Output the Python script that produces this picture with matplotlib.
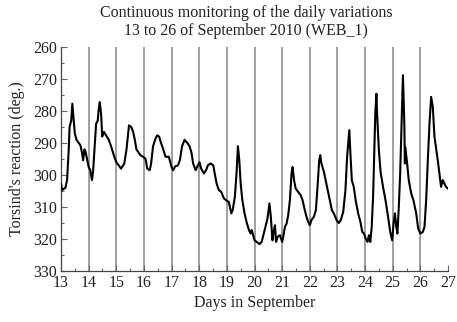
import matplotlib
matplotlib.use("Agg")
import matplotlib.pyplot as plt
from matplotlib.ticker import MultipleLocator

days = [13.00, 13.04, 13.16, 13.22, 13.28, 13.31, 13.37, 13.41, 13.46, 13.50, 13.56, 13.64, 13.70, 13.76, 13.80,
        13.85, 13.89, 13.94, 14.00, 14.06, 14.12, 14.16, 14.21, 14.27, 14.33, 14.36, 14.40, 14.45, 14.49, 14.55,
        14.63, 14.73, 14.81, 14.91, 15.00, 15.09, 15.17, 15.25, 15.29, 15.37, 15.43, 15.46, 15.54, 15.61, 15.67,
        15.73, 15.81, 15.87, 15.97, 16.06, 16.12, 16.21, 16.26, 16.33, 16.42, 16.48, 16.55, 16.62, 16.70, 16.78,
        16.90, 17.00, 17.06, 17.13, 17.23, 17.30, 17.38, 17.47, 17.57, 17.65, 17.72, 17.78, 17.87, 17.95, 18.01,
        18.07, 18.17, 18.25, 18.31, 18.41, 18.51, 18.56, 18.63, 18.71, 18.80, 18.89, 18.99, 19.07, 19.16, 19.21,
        19.29, 19.35, 19.40, 19.45, 19.50, 19.56, 19.64, 19.71, 19.80, 19.86,
        19.90, 20.00, 20.08, 20.18, 20.26, 20.32, 20.38, 20.47, 20.54, 20.59, 20.65, 20.68, 20.74, 20.78, 20.84,
        20.92, 21.00, 21.04, 21.10, 21.16, 21.22, 21.28, 21.34, 21.38, 21.43, 21.49, 21.58, 21.67, 21.74, 21.82,
        21.88, 21.94, 22.00, 22.06, 22.15, 22.22, 22.28, 22.34, 22.38, 22.42, 22.51, 22.60, 22.70, 22.80, 22.87,
        22.97, 23.05, 23.12, 23.21, 23.29, 23.35, 23.40, 23.43, 23.47, 23.52, 23.59, 23.66, 23.75, 23.83, 23.90,
        23.96, 24.02, 24.09, 24.14, 24.19, 24.24, 24.29, 24.33, 24.37, 24.41, 24.44, 24.50, 24.56, 24.65, 24.74,
        24.83, 24.91, 24.98, 25.03, 25.08, 25.13, 25.17, 25.22, 25.27, 25.32, 25.37, 25.42, 25.44, 25.45, 25.51,
        25.58, 25.67, 25.75, 25.85, 25.92, 26.00, 26.09, 26.15, 26.21, 26.27, 26.33, 26.39, 26.45, 26.51, 26.57,
        26.63, 26.69, 26.75, 26.81, 26.87, 26.93, 26.99]

reaction = [302.7, 304.7, 304.0, 301.6, 292.0, 285.0, 283.0, 277.7, 283.0, 287.0, 289.0, 290.0, 290.7, 293.0, 295.4,
            292.0, 292.8, 295.0, 297.5, 298.5, 301.6, 299.0, 292.0, 284.0, 283.0, 279.8, 277.2, 280.8, 288.0, 286.5,
            287.6, 289.0, 291.0, 293.8, 296.0, 297.0, 298.0, 297.0, 296.4, 292.0, 287.0, 284.5, 285.0, 286.5, 289.0,
            292.0, 293.0, 293.8, 294.3, 295.0, 298.0, 298.5, 296.4, 291.0, 288.6, 287.6, 288.0, 290.0, 292.0, 294.3,
            294.3, 297.5, 298.5, 297.3, 297.0, 295.4, 291.0, 289.0, 290.0, 291.0, 293.0, 296.4, 298.5, 297.0, 296.0,
            298.0, 299.5, 298.5, 297.0, 296.4, 297.0, 299.5, 302.7, 304.7, 305.3, 307.3, 308.0, 308.4, 312.0, 311.0,
            306.8, 299.5, 291.0, 295.4, 302.7, 307.9, 312.0, 314.6, 317.2, 318.3,
            317.2, 320.4, 320.9, 321.6, 320.9, 318.8, 316.7, 313.6, 308.9, 313.0, 320.4, 318.3, 315.7, 320.9, 319.3,
            318.8, 320.9, 319.3, 316.2, 315.2, 312.5, 307.9, 299.5, 297.5, 301.6, 304.2, 305.3, 306.3, 307.9, 311.0,
            313.0, 314.6, 315.7, 314.1, 313.0, 311.0, 303.7, 295.4, 293.8, 296.4, 299.0, 302.7, 306.8, 311.0, 312.0,
            314.1, 315.0, 314.1, 311.5, 304.7, 294.3, 289.0, 286.0, 293.3, 301.6, 303.7, 307.9, 312.0, 314.6, 317.8,
            318.3, 319.8, 320.9, 318.8, 320.9, 316.2, 306.8, 294.3, 280.8, 274.6, 281.9, 292.3, 299.0, 303.7, 307.9,
            313.0, 317.8, 320.4, 315.2, 312.0, 316.2, 318.3, 310.0, 299.5, 284.0, 268.8, 284.0, 296.4, 291.2, 295.4,
            301.6, 305.8, 307.9, 312.0, 316.7, 318.3, 317.8, 316.2, 307.9, 295.4, 284.0, 275.6, 278.7, 288.0, 291.7,
            295.4, 299.5, 303.7, 301.6, 302.7, 303.7, 304.2]

day_lines = [14, 15, 16, 17, 18, 19, 20, 21, 22, 23, 24, 25, 26]
x_ticks = list(range(13, 28))
y_ticks = [260, 270, 280, 290, 300, 310, 320, 330]

plt.rcParams['font.family'] = ['Liberation Serif', 'DejaVu Serif']
plt.rcParams['font.size'] = 11.5
plt.rcParams['text.color'] = '#222222'
plt.rcParams['axes.labelcolor'] = '#222222'
plt.rcParams['xtick.labelcolor'] = '#222222'
plt.rcParams['ytick.labelcolor'] = '#222222'

fig = plt.figure(figsize=(4.57, 3.22), dpi=100)
ax = fig.add_axes([61/457, 1 - 271/322, (448 - 61)/457, (271 - 47)/322])

for d in day_lines:
    ax.axvline(d, color='#a0a0a0', lw=1.4, zorder=1)

ax.plot(days, reaction, color='black', lw=1.5, zorder=3)

ax.set_xlim(13, 27)
ax.set_ylim(330, 260)
ax.set_xticks(x_ticks)
ax.set_yticks(y_ticks)
ax.xaxis.set_minor_locator(MultipleLocator(0.5))
ax.yaxis.set_minor_locator(MultipleLocator(5))
ax.tick_params(which='both', direction='in', color='#666666', width=0.8, labelsize=11.5)
ax.tick_params(which='major', length=4)
ax.tick_params(which='minor', length=2.5)
ax.tick_params(axis='x', pad=3)
ax.tick_params(axis='y', pad=3)

for s in ['top', 'right']:
    ax.spines[s].set_visible(False)
for s in ['left', 'bottom']:
    ax.spines[s].set_color('#444444')
    ax.spines[s].set_linewidth(0.9)

ax.set_xlabel("Days in September", labelpad=2.5)
ax.set_ylabel("Torsind's reaction (deg.)", labelpad=6)

fig.text(246/457, 1 - 13/322, "Continuous monitoring of the daily variations", ha='center', va='center')
fig.text(246/457, 1 - 31/322, "13 to 26 of September 2010 (WEB_1)", ha='center', va='center')

fig.savefig("out.png", dpi=100)
